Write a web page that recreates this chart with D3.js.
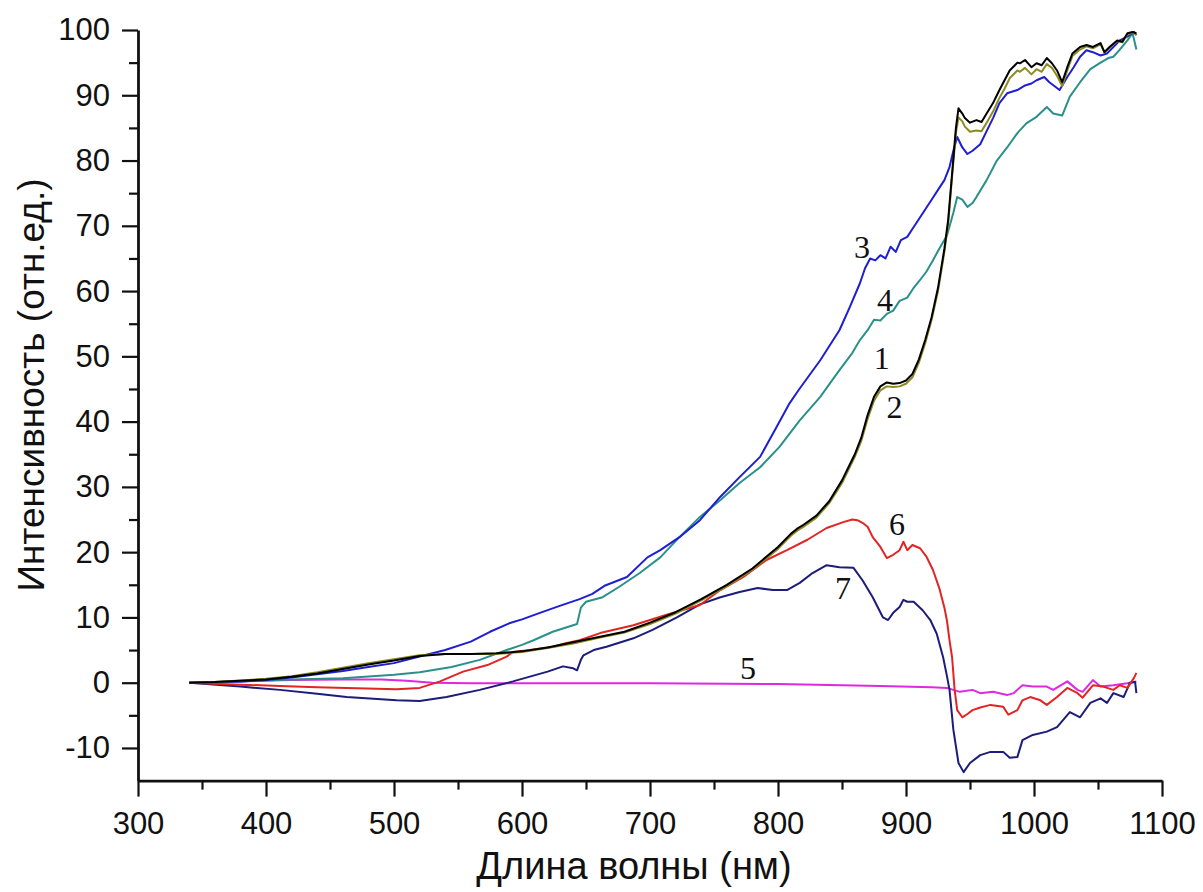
<!DOCTYPE html>
<html>
<head>
<meta charset="utf-8">
<script src="https://cdn.jsdelivr.net/npm/d3@7"></script>
<style>
  html, body { margin: 0; padding: 0; background: #fff; }
  svg { display: block; }
  .axis text { font-family: "Liberation Sans", Arial, sans-serif; font-size: 31px; fill: #111; }
  .axis path, .axis line { stroke: #111; }
</style>
</head>
<body>
<svg id="chart" width="1203" height="892"></svg>
<script>
// Wavelength (nm) / relative intensity for each numbered curve
const wl1 = [340,360,380,400,420,440,460,480,500,520,540,560,580,600,620,640,660,680,700,720,740,760,780,800,810,815,820,830,840,850,860,865,870,875,880,885,890,895,900,905,910,915,920,925,930,933,936,939,941,944,946,950,955,959,963,968,973,977,981,987,989,993,998,1002,1006,1010,1014,1018,1022,1026,1030,1036,1041,1046,1052,1055,1059,1065,1069,1073,1077,1080];
const val1 = [0,0.1,0.3,0.5,0.9,1.4,2.1,2.8,3.4,4.1,4.4,4.4,4.5,4.8,5.4,6.2,7.0,7.8,9.2,10.8,12.8,15.0,17.5,20.8,22.8,23.6,24.2,25.6,27.8,31.0,35.0,37.5,41.0,43.8,45.4,46.0,45.8,45.9,46.3,47.3,49.5,52.5,56.0,60.5,66.5,71,78,85,88,87.2,86.5,85.8,86.2,85.9,87.2,88.8,90.8,92.3,93.8,95.0,94.9,95.4,94.3,94.9,94.6,95.7,94.9,93.8,92.0,94.3,96.4,97.4,97.7,97.4,98.0,96.6,97.4,98.4,98.2,99.5,99.7,99.5];

const wl2 = [340,360,380,400,420,440,460,480,500,520,540,560,580,600,620,640,660,680,700,720,740,760,780,800,810,815,820,830,840,850,860,865,870,875,880,885,890,895,900,905,910,915,920,925,930,933,936,939,941,944,946,950,955,959,963,968,973,977,981,987,989,993,998,1002,1006,1010,1014,1018,1022,1026,1030,1036,1041,1046,1052,1055,1059,1065,1069,1073,1077,1080];
const val2 = [0,0.1,0.35,0.6,1.0,1.6,2.3,3.0,3.6,4.2,4.4,4.4,4.4,4.7,5.3,6.0,6.9,7.7,9.0,10.6,12.6,14.8,17.3,20.5,22.5,23.3,23.9,25.3,27.5,30.6,34.6,37.0,40.4,43.2,44.8,45.4,45.3,45.4,45.8,46.8,49.0,52.0,55.6,60.0,66.0,70.5,77.5,84.2,86.6,86.0,85.2,84.4,84.6,84.5,85.8,87.5,89.6,91.0,92.6,93.8,93.6,94.2,93.2,94.0,93.6,94.8,94.2,93.0,91.4,93.8,96.0,97.0,97.5,97.2,97.8,96.6,97.3,98.3,98.1,99.3,99.6,99.3];

const wl3 = [340,360,380,400,420,440,460,480,500,520,540,560,575,590,600,614,630,645,655,665,682,698,708,723,739,755,770,786,799,809,816,833,848,856,864,868,872,876,880,884,888,892,896,901,905,910,915,920,925,930,934,937,940,944,948,952,958,963,968,973,979,987,993,998,1002,1008,1012,1020,1026,1031,1036,1041,1046,1052,1057,1062,1067,1073,1078,1080];
const val3 = [0,0.1,0.2,0.4,0.8,1.3,1.8,2.4,3.0,4.0,5.0,6.3,7.8,9.1,9.7,10.7,11.8,12.8,13.6,14.9,16.2,19.2,20.3,22.3,24.9,28.5,31.5,34.6,39.2,42.8,44.8,49.4,54,57.5,61.2,63.5,65,64.7,65.5,65,66.8,66,67.8,68.3,69.5,71,72.5,74,75.5,77,79,81.5,83.6,82,81,81.5,82.5,84.5,86.5,88.8,90.3,90.8,91.5,91.8,92.3,92.8,92.0,90.8,92.8,94.3,95.9,96.9,96.6,96.1,96.4,97.4,98.4,99,99.7,99.2];

const wl4 = [340,380,420,460,500,520,545,567,588,600,609,624,635,643,646,650,663,676,692,708,723,739,755,770,786,801,817,833,848,858,864,870,875,880,885,890,895,901,906,911,916,921,926,932,937,940,944,948,952,955,963,971,979,987,994,1002,1010,1015,1022,1028,1036,1044,1052,1058,1062,1067,1073,1077,1080];
const val4 = [0,0.2,0.5,0.7,1.2,1.6,2.4,3.5,5.0,5.8,6.5,7.8,8.5,9.0,11.5,12.4,13.1,14.7,16.8,19.2,22.3,25.4,28,30.6,33,36.1,40.2,43.8,47.9,50.5,52.5,54,55.6,55.5,56.5,57,58.5,59,60.5,61.7,63,64.7,66.5,68.5,72,74.4,74,72.9,73.5,74.4,77,80,82,84.2,85.7,86.7,88.2,87.2,86.9,89.8,92,94,95,95.7,95.9,97,98.4,99.5,97];

const wl5 = [340,380,420,460,490,510,530,560,600,700,800,880,920,932,942,952,958,968,979,984,991,999,1010,1015,1026,1034,1038,1046,1052,1062,1073,1080];
const val5 = [0,0.2,0.4,0.5,0.5,0.3,0,-0.1,-0.1,-0.1,-0.2,-0.5,-0.7,-0.8,-1.4,-1.1,-1.6,-1.4,-1.9,-1.6,-0.4,-0.6,-0.6,-1.1,0.2,-1.1,-1.4,0.4,-0.6,-0.4,-0.1,0.2];

const wl6 = [340,380,411,440,463,502,520,536,554,573,588,593,606,624,635,645,661,687,713,739,755,773,791,807,823,838,851,858,862,866,870,874,880,885,890,895,898,901,905,911,916,921,926,930,932,934,936,938,940,944,948,952,958,966,976,980,987,991,997,1005,1010,1018,1026,1034,1038,1046,1054,1062,1067,1073,1078,1080];
const val6 = [0,-0.3,-0.5,-0.7,-0.8,-1.0,-0.8,0.2,1.7,2.7,4.0,4.7,5.0,5.5,6.1,6.5,7.6,8.8,10.4,11.9,14.2,16.2,18.8,20.3,21.9,23.7,24.6,25.0,24.9,24.5,23.9,22.3,20.8,19.1,19.6,20.3,21.6,20.3,21.1,20.6,19.3,17.3,14.5,11.5,9.5,6.5,3.9,-1.1,-4.2,-5.3,-4.8,-4.2,-3.8,-3.4,-3.7,-4.9,-4.2,-2.7,-2.2,-2.7,-3.4,-2.2,-0.8,-1.6,-2.3,-0.4,-0.6,-1.1,-0.4,-0.8,0.7,1.5];

const wl7 = [340,380,411,440,463,502,520,541,567,593,620,632,640,643,646,648,656,666,687,702,721,739,755,770,784,796,807,817,827,838,848,859,866,874,882,886,890,895,898,901,906,913,919,924,929,932,934,937,941,945,950,958,966,976,981,987,991,999,1010,1018,1028,1036,1044,1052,1057,1062,1070,1075,1079,1080];
const val7 = [0,-0.6,-1.1,-1.7,-2.2,-2.7,-2.8,-2.2,-1.1,0.2,1.7,2.5,2.2,1.9,3.5,4.2,5.0,5.5,6.8,8.1,10.0,12.0,13.1,13.9,14.5,14.2,14.2,15.3,16.8,18.0,17.7,17.6,15.7,13.1,10.0,9.6,10.7,11.6,12.7,12.4,12.4,11.1,9.6,7.5,3.9,1.0,-1.1,-7.2,-12.3,-13.7,-12.3,-11.1,-10.6,-10.6,-11.5,-11.4,-8.8,-8.0,-7.5,-6.8,-4.5,-5.3,-3.1,-2.4,-3.1,-1.6,-2.2,0,0.1,-1.6];

// Curve numbers and the point each number is written at
const curveNames  = ["1", "2", "3", "4", "5", "6", "7"];
const curveColors = ["#000000", "#8c8c1e", "#1e1ed2", "#2a908a", "#e028e0", "#e22424", "#1c1c7a"];
const labelX = [881, 891, 865.6, 883.6, 776.6, 893, 850.8];
const labelY = [49.8, 42.2, 66.8, 58.6, 2.2, 24.3, 14.5];

// Axis ticks
const xMajor = [300, 400, 500, 600, 700, 800, 900, 1000, 1100];
const xMinor = [350, 450, 550, 650, 750, 850, 950, 1050];
const yMajor = [-10, 0, 10, 20, 30, 40, 50, 60, 70, 80, 90, 100];
const yMinor = [-5, 5, 15, 25, 35, 45, 55, 65, 75, 85, 95];

const xTitle = "Длина волны (нм)";
const yTitle = "Интенсивность (отн.ед.)";

const series = [
  {wl: wl1, v: val1}, {wl: wl2, v: val2}, {wl: wl3, v: val3}, {wl: wl4, v: val4},
  {wl: wl5, v: val5}, {wl: wl6, v: val6}, {wl: wl7, v: val7}
];

const svg = d3.select("#chart");
const m = {left: 138, right: 1162, top: 30, bottom: 780.6};

const x = d3.scaleLinear().domain([300, 1100]).range([m.left, m.right]);
const y = d3.scaleLinear().domain([-15, 100]).range([m.bottom, m.top]);

// plain hyphen for negative tick values
const fmt = d => String(d);

// curves
const line = d3.line().x(d => x(d[0])).y(d => y(d[1]));
const drawOrder = [4, 6, 5, 3, 2, 1, 0];
drawOrder.forEach(i => {
  const s = series[i];
  svg.append("path")
    .datum(s.wl.map((w, k) => [w, s.v[k]]))
    .attr("fill", "none")
    .attr("stroke", curveColors[i])
    .attr("stroke-width", 2)
    .attr("stroke-linejoin", "round")
    .attr("d", line);
});

// minor ticks
svg.append("g").attr("class", "axis")
  .attr("transform", `translate(0,${m.bottom})`)
  .call(d3.axisBottom(x).tickValues(xMinor).tickSize(9).tickFormat(""))
  .call(g => g.select(".domain").remove())
  .selectAll("line").attr("stroke-width", 2.2);
svg.append("g").attr("class", "axis")
  .attr("transform", `translate(${m.left},0)`)
  .call(d3.axisLeft(y).tickValues(yMinor).tickSize(9).tickFormat(""))
  .call(g => g.select(".domain").remove())
  .selectAll("line").attr("stroke-width", 2.2);

// major ticks with labels
const gx = svg.append("g").attr("class", "axis")
  .attr("transform", `translate(0,${m.bottom})`)
  .call(d3.axisBottom(x).tickValues(xMajor).tickSize(16).tickSizeOuter(0).tickPadding(15).tickFormat(fmt));
gx.select(".domain").attr("stroke-width", 2.8);
gx.selectAll("line").attr("stroke-width", 2.2);

const gy = svg.append("g").attr("class", "axis")
  .attr("transform", `translate(${m.left},0)`)
  .call(d3.axisLeft(y).tickValues(yMajor).tickSize(16).tickSizeOuter(0).tickPadding(12).tickFormat(fmt));
gy.select(".domain").attr("stroke-width", 2.8);
gy.selectAll("line").attr("stroke-width", 2.2);

// axis titles
svg.append("text")
  .attr("x", 634)
  .attr("y", 879)
  .attr("text-anchor", "middle")
  .attr("font-family", "Liberation Sans, Arial, sans-serif")
  .attr("font-size", 38)
  .attr("fill", "#111")
  .text(xTitle);

svg.append("text")
  .attr("transform", "translate(44,385) rotate(-90)")
  .attr("text-anchor", "middle")
  .attr("font-family", "Liberation Sans, Arial, sans-serif")
  .attr("font-size", 37)
  .attr("fill", "#111")
  .text(yTitle);

// curve numbers
svg.append("g").selectAll("text")
  .data(curveNames)
  .join("text")
  .attr("x", (d, i) => x(labelX[i]))
  .attr("y", (d, i) => y(labelY[i]))
  .attr("text-anchor", "middle")
  .attr("dominant-baseline", "central")
  .attr("font-family", "Liberation Serif, Times New Roman, serif")
  .attr("font-size", 32)
  .attr("fill", "#111")
  .text(d => d);
</script>
</body>
</html>
